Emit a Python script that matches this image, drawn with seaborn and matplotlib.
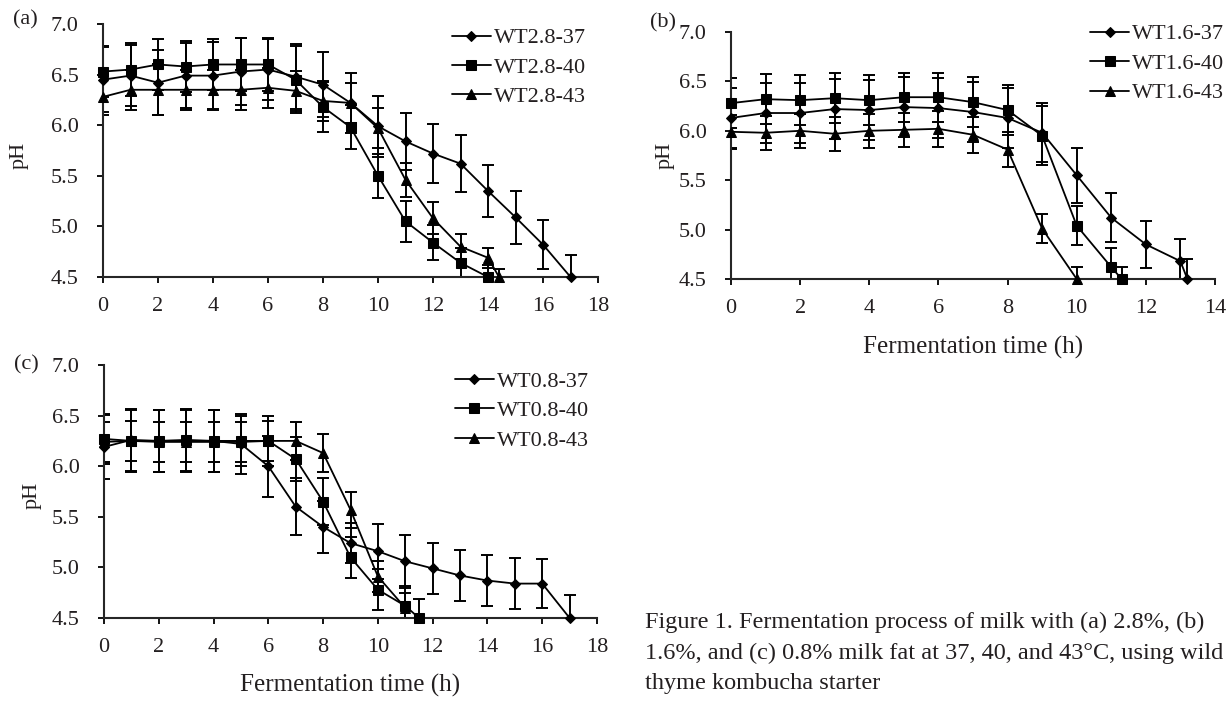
import numpy as np
import pandas as pd
import matplotlib
matplotlib.use("Agg")
import matplotlib.pyplot as plt
import seaborn as sns

# pH readings (panel a: 2.8 % fat)
t_a37 = [0, 1, 2, 3, 4, 5, 6, 7, 8, 9, 10, 11, 12, 13, 14, 15, 16, 17]
ph_a37 = [6.45, 6.49, 6.42, 6.49, 6.49, 6.53, 6.55, 6.48, 6.40, 6.22, 5.99, 5.84, 5.72, 5.62, 5.35, 5.09, 4.82, 4.50]
err_a37 = [0.32, 0.30, 0.32, 0.32, 0.33, 0.33, 0.30, 0.32, 0.32, 0.30, 0.30, 0.28, 0.29, 0.28, 0.26, 0.26, 0.24, 0.22]
t_a40 = [0, 1, 2, 3, 4, 5, 6, 7, 8, 9, 10, 11, 12, 13, 14]
ph_a40 = [6.53, 6.55, 6.60, 6.58, 6.60, 6.60, 6.60, 6.45, 6.18, 5.98, 5.50, 5.05, 4.84, 4.64, 4.50]
err_a40 = [0.25, 0.26, 0.25, 0.25, 0.25, 0.26, 0.26, 0.33, 0.25, 0.22, 0.22, 0.20, 0.17, 0.15, 0.12]
t_a43 = [0, 1, 2, 3, 4, 5, 6, 7, 8, 9, 10, 11, 12, 13, 14, 14.4]
ph_a43 = [6.28, 6.35, 6.35, 6.35, 6.35, 6.35, 6.37, 6.34, 6.24, 6.22, 5.97, 5.46, 5.08, 4.80, 4.69, 4.50]
err_a43 = [0.18, 0.20, 0.25, 0.20, 0.20, 0.20, 0.20, 0.20, 0.20, 0.20, 0.20, 0.17, 0.16, 0.12, 0.10, 0.08]

# panel b: 1.6 % fat
t_b37 = [0, 1, 2, 3, 4, 5, 6, 7, 8, 9, 10, 11, 12, 13, 13.2]
ph_b37 = [6.13, 6.18, 6.18, 6.22, 6.21, 6.24, 6.23, 6.19, 6.13, 5.98, 5.55, 5.12, 4.85, 4.68, 4.50]
err_b37 = [0.30, 0.30, 0.30, 0.30, 0.30, 0.30, 0.30, 0.30, 0.30, 0.30, 0.28, 0.25, 0.24, 0.22, 0.20]
t_b40 = [0, 1, 2, 3, 4, 5, 6, 7, 8, 9, 10, 11, 11.3]
ph_b40 = [6.28, 6.32, 6.31, 6.33, 6.31, 6.34, 6.34, 6.29, 6.21, 5.95, 5.04, 4.62, 4.50]
err_b40 = [0.25, 0.25, 0.25, 0.25, 0.25, 0.25, 0.25, 0.25, 0.25, 0.30, 0.20, 0.19, 0.12]
t_b43 = [0, 1, 2, 3, 4, 5, 6, 7, 8, 9, 10]
ph_b43 = [5.99, 5.98, 6.00, 5.97, 6.00, 6.01, 6.02, 5.96, 5.81, 5.01, 4.50]
err_b43 = [0.17, 0.17, 0.17, 0.17, 0.17, 0.17, 0.18, 0.18, 0.18, 0.15, 0.12]

# panel c: 0.8 % fat
t_c37 = [0, 1, 2, 3, 4, 5, 6, 7, 8, 9, 10, 11, 12, 13, 14, 15, 16, 17]
ph_c37 = [6.19, 6.26, 6.25, 6.25, 6.25, 6.22, 6.00, 5.60, 5.40, 5.24, 5.16, 5.06, 4.99, 4.92, 4.87, 4.84, 4.84, 4.50]
err_c37 = [0.32, 0.31, 0.31, 0.31, 0.31, 0.30, 0.30, 0.28, 0.26, 0.20, 0.27, 0.26, 0.25, 0.25, 0.25, 0.25, 0.24, 0.23]
t_c40 = [0, 1, 2, 3, 4, 5, 6, 7, 8, 9, 10, 11, 11.5]
ph_c40 = [6.27, 6.25, 6.25, 6.26, 6.25, 6.25, 6.25, 6.07, 5.65, 5.10, 4.78, 4.62, 4.50]
err_c40 = [0.25, 0.31, 0.31, 0.31, 0.31, 0.25, 0.25, 0.22, 0.23, 0.20, 0.20, 0.20, 0.19]
t_c43 = [0, 1, 2, 3, 4, 5, 6, 7, 8, 9, 10, 11]
ph_c43 = [6.24, 6.25, 6.24, 6.24, 6.24, 6.24, 6.25, 6.25, 6.13, 5.57, 4.91, 4.60]
err_c43 = [0.20, 0.20, 0.20, 0.20, 0.20, 0.20, 0.20, 0.19, 0.19, 0.18, 0.15, 0.15]

y_ticks = [4.5, 5.0, 5.5, 6.0, 6.5, 7.0]
caption = ["Figure 1. Fermentation process of milk with (a) 2.8%, (b)",
           "1.6%, and (c) 0.8% milk fat at 37, 40, and 43°C, using wild",
           "thyme kombucha starter"]

sns.set_style("ticks")
plt.rcParams['font.family'] = ['Liberation Serif', 'DejaVu Serif']
plt.rcParams['axes.linewidth'] = 1.5

W, H = 1232, 702
fig = plt.figure(figsize=(W / 100, H / 100), dpi=100)


def px_axes(x0, x1, y_top, y_bot):
    return fig.add_axes([x0 / W, 1 - y_bot / H, (x1 - x0) / W, (y_bot - y_top) / H])


markers = {'37': ('D', 4.6), '40': ('s', 7.4), '43': ('^', 7.8)}


def draw_panel(ax, series, xmax, prefix, leg_xy):
    for temp, t, ph, err in series:
        mk, ms = markers[temp]
        ax.errorbar(t, ph, yerr=err, fmt='none', ecolor='black', elinewidth=1.4,
                    capsize=4.5, capthick=1.4, zorder=2)
        sns.lineplot(x=t, y=ph, ax=ax, color='black', linewidth=1.3, marker=mk,
                     markersize=ms, markeredgecolor='black', markerfacecolor='black',
                     label=f"{prefix}-{temp}", clip_on=False, zorder=3)
    ax.set_xlim(0, xmax)
    ax.set_ylim(4.5, 7.0)
    ax.set_xticks(np.arange(0, xmax + 1, 2))
    ax.set_yticks(y_ticks)
    ax.set_yticklabels([f"{v:.1f}" for v in y_ticks])
    ax.tick_params(direction='out', length=4.5, width=1.3, labelsize=16,
                   color='black', labelcolor='#231f20')
    ax.tick_params(axis='x', pad=10)
    ax.tick_params(axis='y', pad=13)
    sns.despine(ax=ax)
    ax.set_xlabel('')
    ax.legend(loc='upper left', bbox_to_anchor=leg_xy, frameon=False, fontsize=16,
              handlelength=1.75, handletextpad=0.15, labelspacing=0.4,
              borderpad=0, borderaxespad=0, labelcolor='#231f20')


ax_a = px_axes(103, 598, 24, 277)
draw_panel(ax_a, [('37', t_a37, ph_a37, err_a37), ('40', t_a40, ph_a40, err_a40),
                  ('43', t_a43, ph_a43, err_a43)], 18, 'WT2.8', (0.705, 0.985))

ax_b = px_axes(731, 1215, 32, 279)
draw_panel(ax_b, [('37', t_b37, ph_b37, err_b37), ('40', t_b40, ph_b40, err_b40),
                  ('43', t_b43, ph_b43, err_b43)], 14, 'WT1.6', (0.742, 1.033))

ax_c = px_axes(104, 597, 365, 618)
draw_panel(ax_c, [('37', t_c37, ph_c37, err_c37), ('40', t_c40, ph_c40, err_c40),
                  ('43', t_c43, ph_c43, err_c43)], 18, 'WT0.8', (0.712, 0.976))

for ax, lx, ly in [(ax_a, -0.170, 0.482), (ax_b, -0.136, 0.502), (ax_c, -0.146, 0.486)]:
    ax.set_ylabel('pH', fontsize=16, color='#231f20', va='center')
    ax.yaxis.set_label_coords(lx, ly)

ax_b.set_xlabel('Fermentation time (h)', fontsize=18, color='#231f20', va='center')
ax_b.xaxis.set_label_coords(0.5, -0.279)
ax_c.set_xlabel('Fermentation time (h)', fontsize=18, color='#231f20', va='center')
ax_c.xaxis.set_label_coords(0.5, -0.268)

for lab, x, y in [('(a)', 25, 20), ('(b)', 663, 23), ('(c)', 26, 365)]:
    fig.text(x / W, 1 - y / H, lab, fontsize=16, ha='center', va='center', color='#231f20')

for i, line in enumerate(caption):
    fig.text(645 / W, 1 - (622 + 31 * i) / H, line, fontsize=17.5, ha='left', va='center',
             color='#231f20')

fig.savefig('out.png', dpi=100)
